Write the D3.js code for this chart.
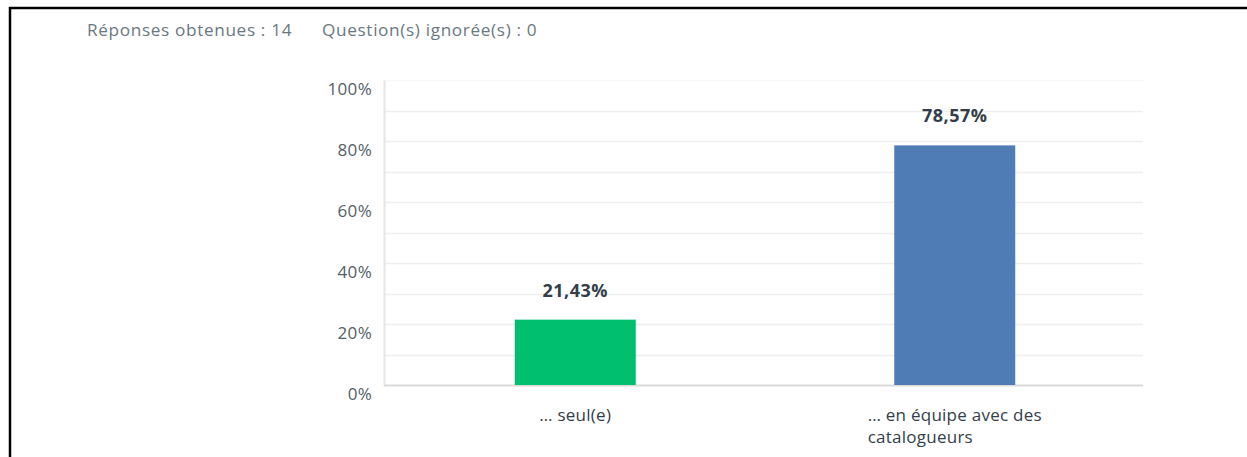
<!DOCTYPE html>
<html>
<head>
<meta charset="utf-8">
<script src="https://cdn.jsdelivr.net/npm/d3@7"></script>
<style>
  html, body { margin: 0; padding: 0; background: #fff; }
  svg { display: block; }
  text { font-family: "Open Sans", Roboto, sans-serif; }
</style>
</head>
<body>
<svg id="chart" width="1247" height="457"></svg>
<script>
const categories = ["… seul(e)", "… en équipe avec des catalogueurs"];
const categoryLines = [["… seul(e)"], ["… en équipe avec des", "catalogueurs"]];
const values = [21.43, 78.57];
const valueLabels = ["21,43%", "78,57%"];
const barColors = ["#00bf6f", "#507cb6"];
const yTicks = [0, 20, 40, 60, 80, 100];
const yGrid = [10, 20, 30, 40, 50, 60, 70, 80, 90, 100];
const headerTexts = ["Réponses obtenues : 14", "Question(s) ignorée(s) : 0"];

const svg = d3.select("#chart");
const W = 1247, H = 457;
const plot = { left: 384, right: 1143, top: 80, bottom: 385 };

// frame border
svg.append("path")
  .attr("d", `M10,${H} L10,8 L${W},8`)
  .attr("fill", "none").attr("stroke", "#000").attr("stroke-width", 2.5);

// header
const hx = [87, 322];
headerTexts.forEach((t, i) => {
  svg.append("text").attr("x", hx[i]).attr("y", 36)
    .attr("fill", "#6b787f").attr("font-size", 17.2).attr("letter-spacing", 0.65).text(t);
});

const x = d3.scaleBand().domain(categories).range([plot.left, plot.right]).paddingInner(0).paddingOuter(0);
const y = d3.scaleLinear().domain([0, 100]).range([plot.bottom, plot.top]);

// grid
svg.append("g").selectAll("line").data(yGrid).join("line")
  .attr("x1", plot.left).attr("x2", plot.right)
  .attr("y1", d => Math.round(y(d)) + 0.5).attr("y2", d => Math.round(y(d)) + 0.5)
  .attr("stroke", d => d === 100 ? "#f7f7f7" : "#efefef").attr("stroke-width", 1.5);

// y axis
const yAxis = d3.axisLeft(y).tickValues(yTicks).tickSize(0).tickPadding(12).tickFormat(d => d + "%");
const gy = svg.append("g").attr("transform", `translate(${plot.left},0)`).call(yAxis);
gy.select(".domain").attr("stroke", "#e6e6e6").attr("stroke-width", 2);
gy.selectAll(".tick text").attr("font-size", 17).attr("letter-spacing", 0.3).attr("fill", "#545e65")
  .attr("font-family", "'Open Sans', sans-serif").attr("dy", "0.85em");

// baseline
svg.append("line").attr("x1", plot.left).attr("x2", plot.right)
  .attr("y1", plot.bottom + 0.5).attr("y2", plot.bottom + 0.5)
  .attr("stroke", "#d9d9d9").attr("stroke-width", 2);

// bars
const barW = 121;
svg.append("g").selectAll("rect").data(values).join("rect")
  .attr("x", (d, i) => x(categories[i]) + x.bandwidth() / 2 - barW / 2 + 1.5)
  .attr("width", barW)
  .attr("y", d => y(d))
  .attr("height", d => plot.bottom - y(d))
  .attr("fill", (d, i) => barColors[i]);

// value labels
svg.append("g").selectAll("text").data(values).join("text")
  .attr("x", (d, i) => x(categories[i]) + x.bandwidth() / 2 + 1.5)
  .attr("y", d => y(d) - 23)
  .attr("text-anchor", "middle")
  .attr("font-size", 18).attr("letter-spacing", 0.5).attr("font-weight", "bold").attr("fill", "#333e48")
  .text((d, i) => valueLabels[i]);

// category labels (left-aligned block, centered under band)
categories.forEach((c, i) => {
  const cx = x(c) + x.bandwidth() / 2 + 1.5;
  const g = svg.append("g");
  const texts = categoryLines[i].map((ln, j) =>
    g.append("text").attr("y", 421 + j * 21.5)
      .attr("font-size", 17).attr("letter-spacing", 0.25).attr("fill", "#333e48").text(ln));
  const maxW = d3.max(texts, t => t.node().getComputedTextLength());
  texts.forEach(t => t.attr("x", cx - maxW / 2));
});
</script>
</body>
</html>
